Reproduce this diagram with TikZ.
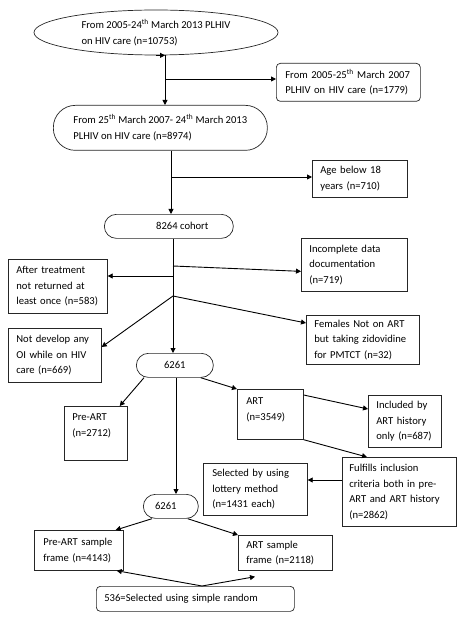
\documentclass[tikz,border=0pt]{standalone}
\usepackage{fontspec}
\setmainfont{Carlito}
\usetikzlibrary{shapes.geometric,arrows.meta,calc}
\begin{document}
\begin{tikzpicture}[x=1pt,y=-1pt,
  every node/.style={font=\fontsize{10.6}{15.5}\selectfont},
  box/.style={draw=black!85, line width=0.7pt, align=left, anchor=north west,
    inner xsep=8pt, inner ysep=0pt},
  pill/.style={draw=black!85, line width=0.7pt, anchor=north west, inner sep=0pt},
  arr/.style={draw=black, line width=0.9pt, -{Triangle[length=5pt,width=5pt]}},
  upshift/.style={execute at end node={\endgraf\vspace*{#1}}}
]
\useasboundingbox (0,0) rectangle (461,620);

% nodes
\node[ellipse, draw=black!85, line width=0.7pt, minimum width=244pt, minimum height=45pt,
  inner sep=0pt, align=left] (e1) at (156,32.5)
  {From 2005-24\textsuperscript{th} March 2013 PLHIV\\on HIV care (n=10753)};
\node[box, rounded corners=4pt, minimum height=38pt, text width=126pt, inner xsep=9pt] (r1) at (276,63)
  {From 2005-25\textsuperscript{th} March 2007\\PLHIV on HIV care (n=1779)};
\node[pill, rounded corners=22pt, minimum height=45pt, minimum width=214pt, align=left] (e2) at (53,105)
  {From 25\textsuperscript{th} March 2007- 24\textsuperscript{th} March 2013\\PLHIV on HIV care (n=8974)};
\node[box, minimum height=37pt, text width=79pt] (age) at (312,160)
  {Age below 18\\years (n=710)};
\node[pill, rounded corners=12pt, minimum height=24pt, minimum width=129pt] (c1) at (104,214)
  {\hspace*{27pt}8264 cohort};
\node[box, minimum height=53pt, text width=90pt] (inc) at (301,238)
  {Incomplete data\\documentation\\(n=719)};
\node[box, minimum height=54pt, text width=83pt] (aft) at (8,259)
  {After treatment\\not returned at\\least once (n=583)};
\node[box, minimum height=49pt, text width=97pt] (fem) at (306,315)
  {Females Not on ART\\but taking zidovidine\\for PMTCT (n=32)};
\node[box, minimum height=54pt, text width=77pt] (nod) at (8,328)
  {Not develop any\\OI while on HIV\\care (n=669)};
\node[pill, rounded corners=12pt, minimum height=24pt, minimum width=77pt] (s1) at (136,353)
  {6261};
\node[box, minimum height=54pt, text width=47pt, upshift=15pt] (pre) at (64,406)
  {Pre-ART\\(n=2712)};
\node[box, minimum height=50pt, text width=48pt, inner xsep=9pt, upshift=9pt] (art) at (237,389)
  {ART\\(n=3549)};
\node[box, minimum height=52pt, text width=57pt] (inc2) at (368,395)
  {Included by\\ART history\\only (n=687)};
\node[box, minimum height=69pt, text width=100pt, inner xsep=7pt] (ful) at (342,457)
  {Fulfills inclusion\\criteria both in pre-\\ART and ART history\\(n=2862)};
\node[box, minimum height=52pt, text width=86pt, inner xsep=9pt] (sel) at (203,463)
  {Selected by using\\lottery method\\(n=1431 each)};
\node[pill, rounded corners=12pt, minimum height=24pt, minimum width=55pt] (s2) at (143,494)
  {6261\hspace*{10pt}};
\node[box, minimum height=40pt, text width=71pt, inner xsep=9pt] (pres) at (34,530)
  {Pre-ART sample\\frame (n=4143)};
\node[box, minimum height=35pt, text width=78pt] (arts) at (238,535)
  {ART sample\\frame (n=2118)};
\node[box, rounded corners=4pt, minimum height=25pt, text width=182pt] (bot) at (96,586)
  {536=Selected using simple random};

% junctions
\coordinate (j0) at (165,79);
\coordinate (j1) at (171,177);
\coordinate (j2) at (173,266);
\coordinate (j3) at (173,276);
\coordinate (j4) at (173,296);
\coordinate (j5) at (176,420);
\coordinate (b0) at ([xshift=106pt]bot.north west);
\coordinate (f0) at ([yshift=-23pt]ful.north west);

% connectors
\draw[arr] (e1.south) -- (e1.south -| j0);
\draw[arr] (e1.south -| j0) -- (e2.north -| j0);
\draw[arr] (j0) -- (r1.west |- j0);

\draw[arr] (e2.south -| j1) -- (c1.north -| j1);
\draw[arr] (j1) -- (age.west |- j1);

\draw[arr] (c1.south -| j2) -- (s1.north -| j2);
\draw[arr] (j2) -- ([yshift=-6.5pt]inc.west);
\draw[arr] (j3) -- (aft.east |- j3);
\draw[arr] (j4) -- ([yshift=-8pt]fem.north west);
\draw[arr] (j4) -- ([yshift=-19pt]nod.north east);

\draw[arr] ([xshift=8pt]s1.south west) -- ([xshift=-8pt]pre.north east);
\draw[arr] ([xshift=-13pt]s1.south east) -- (art.north west);
\draw[arr] ([yshift=-6pt]art.north east) -- ([yshift=-14pt]inc2.north west);
\draw[arr] (art.south east) -- ([xshift=25pt]ful.north west);
\draw[arr] (f0) -- (sel.east |- f0);

\draw[arr] (s1.south -| j5) -- (s2.north -| j5);
\draw[arr] ([xshift=9pt]s2.south west) -- ([xshift=-8pt]pres.north east);
\draw[arr] ([xshift=-11pt]s2.south east) -- (arts.north west);

\draw[arr] (b0) -- ([xshift=-7pt]pres.south east);
\draw[arr] (b0) -- ([xshift=17pt,yshift=-6pt]arts.south west);
\end{tikzpicture}
\end{document}
